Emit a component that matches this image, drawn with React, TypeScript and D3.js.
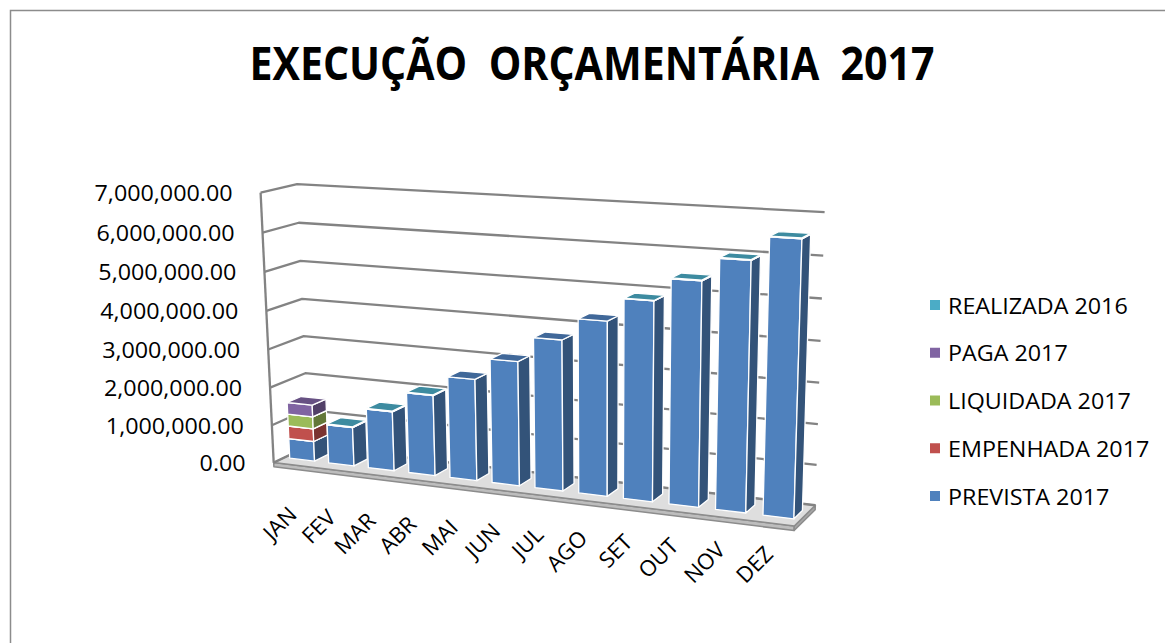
import * as d3 from "d3";

const WIDTH = 1165;
const HEIGHT = 643;

const MONTHS = ["JAN", "FEV", "MAR", "ABR", "MAI", "JUN", "JUL", "AGO", "SET", "OUT", "NOV", "DEZ"];

// stacking order, bottom to top
const SERIES = ["PREVISTA 2017", "EMPENHADA 2017", "LIQUIDADA 2017", "PAGA 2017", "REALIZADA 2016"];
const COLORS = ["#4f81bd", "#c0504d", "#9bbb59", "#8064a2", "#4bacc6"];

const PREVISTA_2017 = [530000, 1020000, 1550000, 2080000, 2600000, 3150000, 3780000, 4330000, 4900000, 5450000, 6000000, 6560000];
const EMPENHADA_2017 = [340000, 0, 0, 0, 0, 0, 0, 0, 0, 0, 0, 0];
const LIQUIDADA_2017 = [320000, 0, 0, 0, 0, 0, 0, 0, 0, 0, 0, 0];
const PAGA_2017 = [310000, 0, 0, 0, 0, 0, 0, 0, 0, 0, 0, 0];
const REALIZADA_2016 = [0, 20000, 20000, 20000, 0, 0, 0, 0, 10000, 20000, 20000, 20000];

const Y_TICKS = [0, 1000000, 2000000, 3000000, 4000000, 5000000, 6000000, 7000000];

// Where the corners of the plot box land on screen: [x, y(millions), z, px, py]
// x: 0 = left wall, 1 = right end; z: 0 = front, 1 = back wall. Used to fit the 3D view.
const FRAME: number[][] = [
  [0, 7, 0, 260, 195], [0, 6, 0, 263, 233], [0, 5, 0, 265, 270], [0, 4, 0, 267, 308],
  [0, 3, 0, 268, 348], [0, 2, 0, 270, 388], [0, 1, 0, 272, 427], [0, 0, 0, 273, 464],
  [0, 7, 1, 294, 185], [0, 6, 1, 299, 223], [0, 5, 1, 302, 261], [0, 4, 1, 303, 298],
  [0, 3, 1, 304, 336], [0, 2, 1, 305, 373],
  [1, 7, 1, 825, 212], [1, 6, 1, 823.5, 256], [1, 5, 1, 822, 298], [1, 4, 1, 820.6, 341],
  [1, 3, 1, 819.2, 383], [1, 2, 1, 817.8, 424], [1, 1, 1, 816.4, 465], [1, 0, 1, 815, 505],
  [1, 0, 0, 794, 526],
];

const SX = 1.11; // the original picture is stretched a little horizontally
const FONT = "'Open Sans', 'DejaVu Sans', sans-serif";

function solve(A: number[][], b: number[]) {
  const n = b.length;
  const M = A.map((row, i) => [...row, b[i]]);
  for (let c = 0; c < n; c++) {
    let piv = c;
    for (let r = c + 1; r < n; r++) if (Math.abs(M[r][c]) > Math.abs(M[piv][c])) piv = r;
    [M[c], M[piv]] = [M[piv], M[c]];
    for (let r = 0; r < n; r++) {
      if (r === c) continue;
      const f = M[r][c] / M[c][c];
      for (let k = c; k <= n; k++) M[r][k] -= f * M[c][k];
    }
  }
  return M.map((row, i) => row[n] / row[i]);
}

// least-squares projective camera (DLT) from the frame points
function fitCamera(pts: number[][]) {
  const CX = 550, CY = 350, S = 300;
  const N = Array.from({ length: 11 }, () => new Array(11).fill(0));
  const r = new Array(11).fill(0);
  const add = (row: number[], b: number) => {
    for (let i = 0; i < 11; i++) {
      r[i] += row[i] * b;
      for (let j = 0; j < 11; j++) N[i][j] += row[i] * row[j];
    }
  };
  for (const [X, Y, Z, u0, v0] of pts) {
    const u = (u0 - CX) / S, v = (v0 - CY) / S;
    add([X, Y, Z, 1, 0, 0, 0, 0, -u * X, -u * Y, -u * Z], u);
    add([0, 0, 0, 0, X, Y, Z, 1, -v * X, -v * Y, -v * Z], v);
  }
  const p = solve(N, r);
  return (X: number, Y: number, Z: number): [number, number] => {
    const w = p[8] * X + p[9] * Y + p[10] * Z + 1;
    const u = (p[0] * X + p[1] * Y + p[2] * Z + p[3]) / w;
    const v = (p[4] * X + p[5] * Y + p[6] * Z + p[7]) / w;
    return [u * S + CX, v * S + CY];
  };
}

export default function App() {
  const project = fitCamera(FRAME);

  const xBand = d3.scaleBand<string>().domain(MONTHS).range([0, 1]).paddingInner(0.36).paddingOuter(0.14);
  const yVal = d3.scaleLinear().domain([0, 7000000]).range([0, 7]);
  const Z0 = 0.3, Z1 = 0.7;
  const FLOOR_T = 0.11;
  // Excel sets the category labels along a flatter line than the floor edge
  const labelDrop = d3.scaleLinear().domain([0, 1]).range([57, 38]);

  const rows = MONTHS.map((m, i) => ({
    month: m,
    "PREVISTA 2017": PREVISTA_2017[i],
    "EMPENHADA 2017": EMPENHADA_2017[i],
    "LIQUIDADA 2017": LIQUIDADA_2017[i],
    "PAGA 2017": PAGA_2017[i],
    "REALIZADA 2016": REALIZADA_2016[i],
  }));
  const stacked = d3.stack<any>().keys(SERIES)(rows);

  const poly = (pts: number[][]) => pts.map((p) => project(p[0], p[1], p[2]).map((v) => v.toFixed(2)).join(",")).join(" ");
  const path = (pts: number[][]) => "M" + pts.map((p) => project(p[0], p[1], p[2]).map((v) => v.toFixed(2)).join(",")).join("L");

  const yMax = yVal(7000000);

  return (
    <svg width={WIDTH} height={HEIGHT} style={{ position: "absolute", left: 0, top: 0, background: "#fff" }}>
      {/* chart border */}
      <rect x={10.5} y={10.5} width={1170} height={650} fill="none" stroke="#8c8c8c" strokeWidth={1.5} />

      {/* title */}
      <text x={592} y={80} textAnchor="middle" fontFamily={FONT} fontWeight={700} fontSize={46}
        textLength={685} lengthAdjust="spacingAndGlyphs" style={{ whiteSpace: "pre" }} fill="#000">
        {"EXECUÇÃO  ORÇAMENTÁRIA  2017"}
      </text>

      {/* floor slab */}
      <polygon points={poly([[0, 0, 0], [1, 0, 0], [1, -FLOOR_T, 0], [0, -FLOOR_T, 0]])} fill="#bdbdbd" stroke="#8c8c8c" strokeWidth={1.5} strokeLinejoin="round" />
      <polygon points={poly([[1, 0, 0], [1, 0, 1], [1, -FLOOR_T, 1], [1, -FLOOR_T, 0]])} fill="#a6a6a6" stroke="#8c8c8c" strokeWidth={1.5} strokeLinejoin="round" />
      <polygon points={poly([[0, 0, 0], [1, 0, 0], [1, 0, 1], [0, 0, 1]])} fill="#dedede" stroke="#8c8c8c" strokeWidth={1.5} strokeLinejoin="round" />

      {/* gridlines on left wall and back wall */}
      {Y_TICKS.map((t) => {
        const y = yVal(t);
        return (
          <path key={t} d={path([[0, y, 0], [0, y, 1], [1, y, 1]])} fill="none" stroke="#838383" strokeWidth={2.3} strokeLinejoin="round" />
        );
      })}
      <path d={path([[0, 0, 0], [0, yMax, 0]])} stroke="#838383" strokeWidth={2.3} />

      {/* bars, left to right, segments bottom to top */}
      {MONTHS.map((m, i) => {
        const x0 = xBand(m)!;
        const x1 = x0 + xBand.bandwidth();
        return (
          <g key={m}>
            {stacked.map((s, k) => {
              const [a, b] = s[i];
              if (b - a <= 0) return null;
              const y0 = yVal(a), y1 = yVal(b);
              const c = d3.color(COLORS[k])!;
              return (
                <g key={s.key} stroke="#fff" strokeWidth={1.3} strokeLinejoin="round">
                  <polygon points={poly([[x0, y0, Z0], [x1, y0, Z0], [x1, y1, Z0], [x0, y1, Z0]])} fill={COLORS[k]} />
                  <polygon points={poly([[x1, y0, Z0], [x1, y0, Z1], [x1, y1, Z1], [x1, y1, Z0]])} fill={c.darker(1.25).formatHex()} />
                  <polygon points={poly([[x0, y1, Z0], [x1, y1, Z0], [x1, y1, Z1], [x0, y1, Z1]])} fill={c.darker(0.6).formatHex()} />
                </g>
              );
            })}
          </g>
        );
      })}

      {/* value axis labels */}
      {Y_TICKS.map((t) => {
        const [px, py] = project(0, yVal(t), 0);
        return (
          <text key={t} transform={`translate(${px - 28},${py}) scale(${SX},1)`} textAnchor="end" dominantBaseline="central"
            fontFamily={FONT} fontSize={21} fill="#000">
            {d3.format(",.2f")(t)}
          </text>
        );
      })}

      {/* category labels */}
      {MONTHS.map((m) => {
        const xc = xBand(m)! + xBand.bandwidth() / 2;
        const [px, py] = project(xc, 0, Z0);
        return (
          <text key={m} transform={`translate(${px - 4},${py + labelDrop(xc)}) rotate(-45)`} textAnchor="end"
            fontFamily={FONT} fontSize={22} fill="#000">
            {m}
          </text>
        );
      })}

      {/* legend, top to bottom */}
      {SERIES.slice().reverse().map((s, i) => {
        const k = SERIES.indexOf(s);
        const cy = 305 + i * 47.75;
        return (
          <g key={s}>
            <rect x={930} y={cy - 5} width={10} height={10} fill={COLORS[k]} />
            <text transform={`translate(948,${cy}) scale(${SX},1)`} dominantBaseline="central" fontFamily={FONT} fontSize={21} fill="#000">
              {s}
            </text>
          </g>
        );
      })}
    </svg>
  );
}
